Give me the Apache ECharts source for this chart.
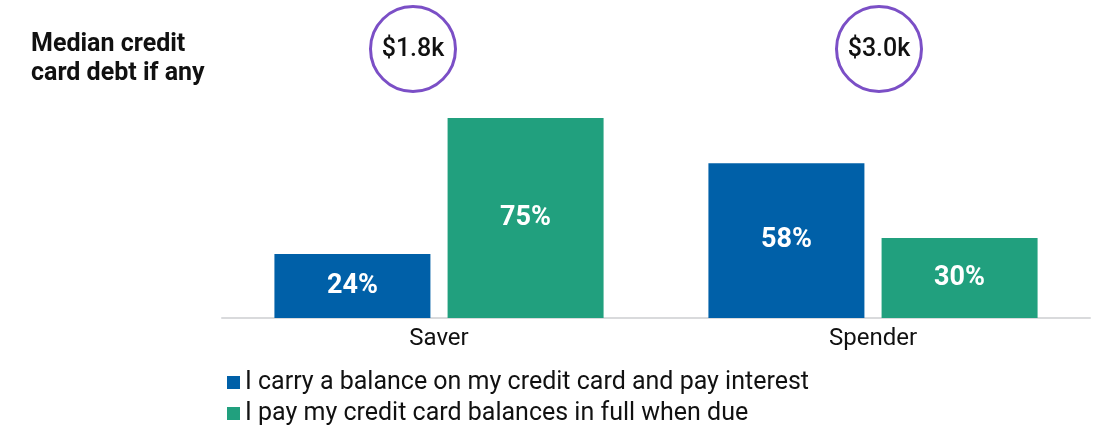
<!DOCTYPE html>
<html lang="en">
<head>
    <meta charset="UTF-8">
    <title>Median credit card debt</title>
    <script src="https://cdn.jsdelivr.net/npm/echarts@6/dist/echarts.min.js"></script>
    <style>
        html, body { margin: 0; padding: 0; background: #fff; }
    </style>
</head>
<body>
    <div id="chart" style="width: 1100px; height: 433px;"></div>
    <script>
        let categories = ['Saver', 'Spender'];
        let carryBalance = [24, 58];
        let payInFull = [75, 30];
        let seriesNames = [
            'I carry a balance on my credit card and pay interest',
            'I pay my credit card balances in full when due'
        ];
        let medianDebt = ['$1.8k', '$3.0k'];

        let font = 'Roboto, "Noto Sans", sans-serif';
        let chart = echarts.init(document.getElementById('chart'));

        let labelStyle = {
            show: true,
            position: 'inside',
            color: '#fff',
            fontFamily: font,
            fontWeight: 'bold',
            fontSize: 27,
            formatter: p => p.value + '%'
        };

        let option = {
            animation: false,
            textStyle: { fontFamily: font },
            title: {
                text: 'Median credit\ncard debt if any',
                left: 26,
                top: 25,
                textStyle: {
                    fontFamily: font,
                    fontSize: 25,
                    fontWeight: 'bold',
                    color: '#111',
                    lineHeight: 29
                }
            },
            legend: {
                orient: 'vertical',
                left: 222,
                top: 365,
                icon: 'rect',
                itemWidth: 13,
                itemHeight: 13,
                itemGap: 6,
                textStyle: { fontFamily: font, fontSize: 25, color: '#111' },
                data: seriesNames
            },
            grid: { left: 222, right: 10, top: 51.3, bottom: 115 },
            xAxis: {
                type: 'category',
                data: categories,
                axisLine: { lineStyle: { color: '#d9dadc', width: 2 } },
                axisTick: { show: false },
                axisLabel: { fontFamily: font, fontSize: 24, color: '#111', margin: 9 }
            },
            yAxis: {
                type: 'value',
                min: 0,
                max: 100,
                show: false
            },
            series: [
                {
                    name: seriesNames[0],
                    type: 'bar',
                    data: carryBalance,
                    barWidth: 156,
                    barGap: '11%',
                    itemStyle: { color: '#0060a8' },
                    label: labelStyle
                },
                {
                    name: seriesNames[1],
                    type: 'bar',
                    data: payInFull,
                    barWidth: 156,
                    itemStyle: { color: '#21a07e' },
                    label: labelStyle
                }
            ]
        };

        chart.setOption(option);

        // circled median debt above each group
        let circleOffsets = [-26, 6];
        let circles = medianDebt.map((txt, i) => {
            let cx = chart.convertToPixel({ xAxisIndex: 0 }, categories[i]) + circleOffsets[i];
            return {
                type: 'group',
                x: cx,
                y: 49,
                children: [
                    {
                        type: 'circle',
                        shape: { cx: 0, cy: 0, r: 42.5 },
                        style: { fill: '#fff', stroke: '#7b4fc6', lineWidth: 3 }
                    },
                    {
                        type: 'text',
                        style: {
                            text: txt,
                            x: 0, y: 1,
                            align: 'center',
                            verticalAlign: 'middle',
                            fontFamily: font,
                            fontSize: 25,
                            fontWeight: 500,
                            fill: '#111'
                        }
                    }
                ]
            };
        });
        chart.setOption({ graphic: circles });
    </script>
</body>
</html>
